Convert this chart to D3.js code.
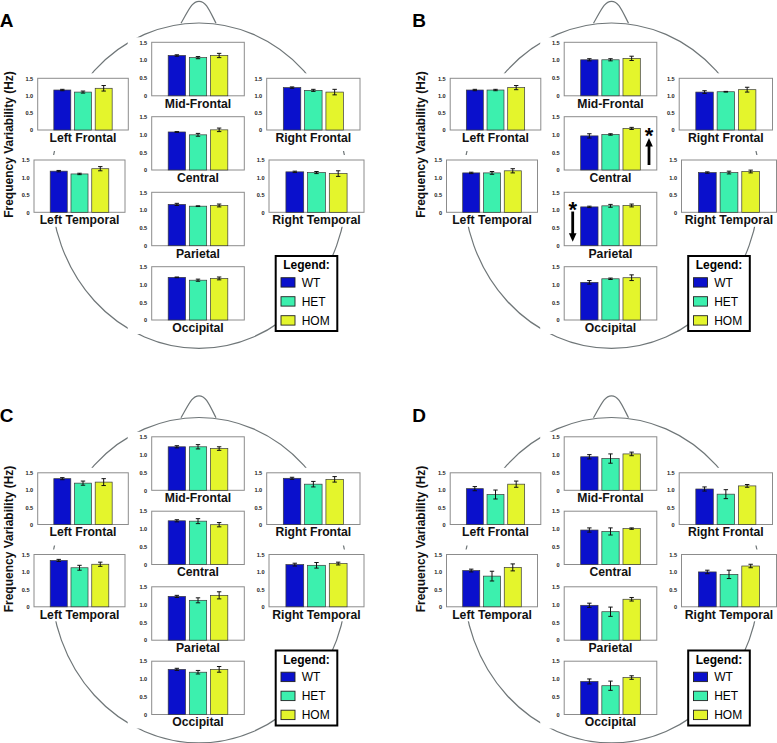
<!DOCTYPE html>
<html><head><meta charset="utf-8">
<script src="https://cdn.jsdelivr.net/npm/d3@7"></script>
<style>
body{margin:0;background:#fff}
svg{display:block}
text{font-family:"Liberation Sans",Arial,Helvetica,sans-serif}
</style>
</head><body>
<svg id="chart" width="777" height="743"></svg>
<script>
// ---------------- DATA ----------------
const groups = ["WT", "HET", "HOM"];
const groupColors = ["#0a10cc", "#3cf0ae", "#e4f52c"];
const regions = ["Left Frontal", "Mid-Frontal", "Right Frontal", "Left Temporal", "Central", "Right Temporal", "Parietal", "Occipital"];
const panels = ["A", "B", "C", "D"];
const yTickValues = [0, 0.5, 1.0, 1.5];
const yTickLabels = ["0", "0.5", "1.0", "1.5"];
const yAxisTitle = "Frequency Variability (Hz)";
const legendTitle = "Legend:";

// mean values, one row per region (order of `regions`), one column per group
const meansA = [[1.16,1.10,1.21],[1.13,1.07,1.13],[1.23,1.15,1.10],[1.18,1.10,1.25],[1.07,0.99,1.13],[1.16,1.14,1.11],[1.16,1.11,1.13],[1.20,1.12,1.17]];
const errA   = [[0.02,0.03,0.08],[0.02,0.03,0.06],[0.02,0.03,0.08],[0.02,0.02,0.06],[0.01,0.04,0.05],[0.02,0.03,0.08],[0.03,0.01,0.04],[0.01,0.03,0.04]];
const meansB = [[1.16,1.16,1.23],[1.01,1.01,1.05],[1.10,1.11,1.17],[1.13,1.13,1.19],[0.96,1.00,1.17],[1.14,1.14,1.17],[1.09,1.12,1.13],[1.06,1.16,1.19]];
const errB   = [[0.02,0.02,0.06],[0.03,0.03,0.06],[0.04,0.01,0.07],[0.02,0.04,0.06],[0.06,0.02,0.03],[0.02,0.04,0.04],[0.02,0.04,0.04],[0.05,0.02,0.08]];
const meansC = [[1.33,1.20,1.23],[1.22,1.22,1.17],[1.34,1.17,1.31],[1.33,1.12,1.22],[1.23,1.22,1.12],[1.21,1.19,1.24],[1.23,1.12,1.26],[1.27,1.19,1.27]];
const errC   = [[0.03,0.06,0.10],[0.03,0.06,0.05],[0.03,0.08,0.08],[0.03,0.07,0.06],[0.03,0.07,0.06],[0.04,0.08,0.04],[0.03,0.07,0.10],[0.03,0.05,0.08]];
const meansD = [[1.04,0.87,1.17],[0.94,0.89,1.02],[1.03,0.88,1.12],[1.04,0.88,1.13],[0.97,0.93,1.01],[1.00,0.93,1.17],[0.98,0.80,1.15],[0.93,0.81,1.04]];
const errD   = [[0.06,0.13,0.09],[0.06,0.13,0.05],[0.06,0.13,0.04],[0.04,0.14,0.10],[0.06,0.10,0.02],[0.05,0.12,0.05],[0.06,0.13,0.05],[0.07,0.13,0.05]];

// significance annotations (panel B): arrow from/to in data units
const annotPanels  = ["B", "B"];
const annotRegions = ["Central", "Parietal"];
const annotDir     = ["up", "down"];
const annotFrom    = [0.14, 0.96];
const annotTo      = [0.90, 0.11];
const annotStar    = [1.12, 1.15];
const annotLabel   = ["*", "*"];

// ---------------- LAYOUT ----------------
const panelData = {A: [meansA, errA], B: [meansB, errB], C: [meansC, errC], D: [meansD, errD]};
const panelOffset = {A: [0, 0], B: [412.5, 0], C: [0, 394.5], D: [412.5, 394.5]};
const layout = {
  "Left Frontal":   {x: 37.7,  y: 78.3,  w: 90.6, h: 51.7, pad: 21,   side: "L"},
  "Mid-Frontal":    {x: 151.7, y: 42.3,  w: 92.6, h: 53.5, pad: 14,   side: "M"},
  "Right Frontal":  {x: 266.7, y: 78.3,  w: 93.3, h: 51.7, pad: 21,   side: "R"},
  "Left Temporal":  {x: 34,    y: 160,   w: 91,   h: 52.3, pad: 14.5, side: "L"},
  "Central":        {x: 151.7, y: 116.7, w: 92.6, h: 53.3, pad: 14,   side: "M"},
  "Right Temporal": {x: 269,   y: 160,   w: 95,   h: 52.3, pad: 14.5, side: "R"},
  "Parietal":       {x: 151.7, y: 192.3, w: 92.6, h: 53.4, pad: 14,   side: "M"},
  "Occipital":      {x: 151.7, y: 266.7, w: 92.6, h: 53.3, pad: 14,   side: "M"}
};
const legendBox = {x: 275.7, y: 256, w: 61.6, h: 75};
const head = {cx: 199, cy: 185.7, rx: 148, ry: 162.7};

const svg = d3.select("#chart");
svg.append("rect").attr("width", 777).attr("height", 743).attr("fill", "#fff");

panels.forEach(p => {
  const [dx, dy] = panelOffset[p];
  const [means, errs] = panelData[p];
  const g = svg.append("g").attr("transform", `translate(${dx},${dy})`);

  // head outline
  g.append("ellipse")
    .attr("cx", head.cx).attr("cy", head.cy).attr("rx", head.rx).attr("ry", head.ry)
    .attr("fill", "none").attr("stroke", "#6f7678").attr("stroke-width", 1.2);
  const ny = head.cy - head.ry + 0.3;
  g.append("path")
    .attr("d", `M${head.cx - 18},${ny} C${head.cx - 10},${ny - 14} ${head.cx - 7},${ny - 22} ${head.cx},${ny - 22} C${head.cx + 7},${ny - 22} ${head.cx + 10},${ny - 14} ${head.cx + 17},${ny}`)
    .attr("fill", "none").attr("stroke", "#6f7678").attr("stroke-width", 1.2);

  // white backgrounds of the subplots (they hide the head outline)
  regions.forEach(r => {
    const L = layout[r];
    g.append("rect")
      .attr("x", L.x - 24).attr("y", L.y - 5)
      .attr("width", L.w + 28).attr("height", L.h + 5 + L.pad)
      .attr("fill", "#fff");
  });

  // subplots
  regions.forEach((r, ri) => {
    const L = layout[r];
    const x = d3.scaleBand().domain(groups).range([L.x, L.x + L.w]).paddingInner(0.18).paddingOuter(0.78);
    const y = d3.scaleLinear().domain([0, 1.5]).range([L.y + L.h, L.y]);
    const sg = g.append("g");

    sg.append("rect").attr("x", L.x).attr("y", L.y).attr("width", L.w).attr("height", L.h)
      .attr("fill", "#fff").attr("stroke", "#8c8c8c").attr("stroke-width", 1);

    const axis = d3.axisLeft(y).tickValues(yTickValues)
      .tickFormat((d, i) => yTickLabels[i]).tickSize(0).tickPadding(4.5);
    const ag = sg.append("g").attr("transform", `translate(${L.x},0)`).call(axis);
    ag.select(".domain").remove();
    ag.selectAll("text").attr("font-size", 5.6).attr("font-weight", "bold").attr("fill", "#222")
      .attr("font-family", "'Liberation Sans',Arial,sans-serif");

    const vals = means[ri], ev = errs[ri];
    sg.selectAll("rect.bar").data(groups).enter().append("rect").attr("class", "bar")
      .attr("x", d => x(d)).attr("width", x.bandwidth())
      .attr("y", (d, i) => y(vals[i])).attr("height", (d, i) => y(0) - y(vals[i]))
      .attr("fill", (d, i) => groupColors[i]).attr("stroke", "#3a3a3a").attr("stroke-width", 0.7);

    const eg = sg.selectAll("g.err").data(groups).enter().append("g").attr("class", "err");
    const cw = 2.2;
    eg.append("line").attr("x1", d => x(d) + x.bandwidth() / 2).attr("x2", d => x(d) + x.bandwidth() / 2)
      .attr("y1", (d, i) => y(vals[i] - ev[i])).attr("y2", (d, i) => y(vals[i] + ev[i]));
    eg.append("line").attr("x1", d => x(d) + x.bandwidth() / 2 - cw).attr("x2", d => x(d) + x.bandwidth() / 2 + cw)
      .attr("y1", (d, i) => y(vals[i] + ev[i])).attr("y2", (d, i) => y(vals[i] + ev[i]));
    eg.append("line").attr("x1", d => x(d) + x.bandwidth() / 2 - cw).attr("x2", d => x(d) + x.bandwidth() / 2 + cw)
      .attr("y1", (d, i) => y(vals[i] - ev[i])).attr("y2", (d, i) => y(vals[i] - ev[i]));
    eg.selectAll("line").attr("stroke", "#111").attr("stroke-width", 1);

    sg.append("text").attr("x", L.x + L.w / 2).attr("y", L.y + L.h + 11.8)
      .attr("text-anchor", "middle").attr("font-size", 12.2).attr("font-weight", "bold")
      .attr("fill", "#111").text(r);

    // annotations
    annotPanels.forEach((ap, ai) => {
      if (ap !== p || annotRegions[ai] !== r) return;
      const ax = annotDir[ai] === "up" ? L.x + L.w - 7.8 : L.x + 8.5;
      const y0 = y(annotFrom[ai]), y1 = y(annotTo[ai]);
      const sgn = annotDir[ai] === "up" ? 1 : -1;
      const hl = 8.5, hw = 3.8;
      sg.append("line").attr("x1", ax).attr("x2", ax).attr("y1", y0).attr("y2", y1 + sgn * hl * 0.8)
        .attr("stroke", "#000").attr("stroke-width", 2.8);
      sg.append("path")
        .attr("d", `M${ax},${y1} L${ax - hw},${y1 + sgn * hl} L${ax + hw},${y1 + sgn * hl} Z`)
        .attr("fill", "#000");
      sg.append("text").attr("x", ax).attr("y", y(annotStar[ai]) + 12.5)
        .attr("text-anchor", "middle").attr("font-size", 22).attr("font-weight", "bold")
        .attr("fill", "#000").text(annotLabel[ai]);
    });
  });

  // legend
  const lg = g.append("g");
  lg.append("rect").attr("x", legendBox.x).attr("y", legendBox.y)
    .attr("width", legendBox.w).attr("height", legendBox.h)
    .attr("fill", "#fff").attr("stroke", "#000").attr("stroke-width", 2);
  lg.append("text").attr("x", legendBox.x + legendBox.w / 2).attr("y", legendBox.y + 13.3)
    .attr("text-anchor", "middle").attr("font-size", 12).attr("font-weight", "bold").attr("fill", "#000")
    .text(legendTitle);
  groups.forEach((gr, i) => {
    const yy = legendBox.y + 21.7 + i * 19;
    lg.append("rect").attr("x", legendBox.x + 5.3).attr("y", yy).attr("width", 14).attr("height", 9.4)
      .attr("fill", groupColors[i]).attr("stroke", "#222").attr("stroke-width", 0.9);
    lg.append("text").attr("x", legendBox.x + 26).attr("y", yy + 9.2)
      .attr("font-size", 12).attr("fill", "#000").text(gr);
  });

  // y-axis title
  g.append("text").attr("transform", `translate(12.6,144.5) rotate(-90)`)
    .attr("text-anchor", "middle").attr("font-size", 12).attr("font-weight", "bold").attr("fill", "#111")
    .text(yAxisTitle);

  // panel letter
  g.append("text").attr("x", -0.3).attr("y", 27.3)
    .attr("font-size", 19).attr("font-weight", "bold").attr("fill", "#000").text(p);
});
</script>
</body></html>
